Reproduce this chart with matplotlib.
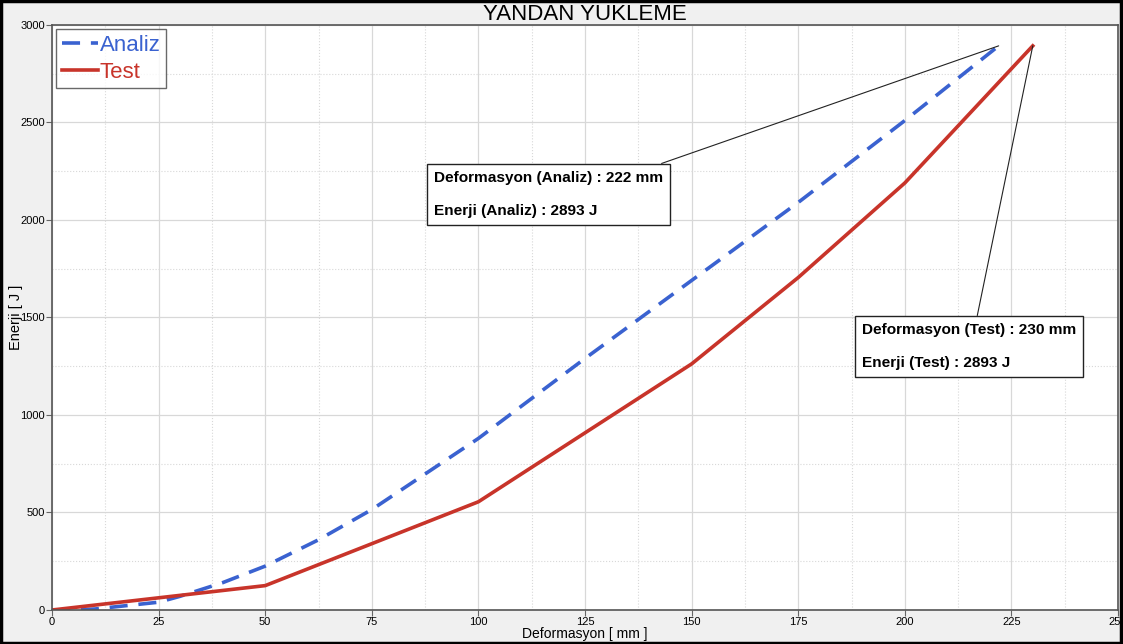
import matplotlib.pyplot as plt
from matplotlib.patches import Rectangle

# data
analiz_x = [0, 5, 10, 25, 30, 40, 50, 62.5, 75, 100, 125, 150, 175, 200, 222]
analiz_y = [0, 0, 5, 40, 70, 140, 225, 360, 515, 880, 1290, 1690, 2090, 2510, 2893]
test_x = [0, 50, 100, 150, 175, 200, 230]
test_y = [0, 125, 555, 1262, 1705, 2190, 2893]

xticks = [0, 25, 50, 75, 100, 125, 150, 175, 200, 225, 250]
yticks = [0, 500, 1000, 1500, 2000, 2500, 3000]

BLUE = "#3a62d0"
RED = "#c8342a"

plt.rcParams['font.family'] = ['Liberation Sans', 'DejaVu Sans']

fig = plt.figure(figsize=(11.23, 6.44), dpi=100)
fig.patch.set_facecolor("#f0f0f0")
fig.patches.append(Rectangle((0.001, 0.002), 0.997, 0.996, transform=fig.transFigure,
                             fill=False, edgecolor="black", linewidth=2.5))

ax = fig.add_axes([0.0463, 0.0528, 0.9493, 0.9084])
ax.set_facecolor("white")

ax.plot(analiz_x, analiz_y, color=BLUE, linestyle=(0, (5, 3)), linewidth=2.6, label="Analiz")
ax.plot(test_x, test_y, color=RED, linewidth=2.6, label="Test")

ax.set_xlim(0, 250)
ax.set_ylim(0, 3000)
ax.set_xticks(xticks)
ax.set_yticks(yticks)
ax.set_xticks([x + 12.5 for x in xticks[:-1]], minor=True)
ax.set_yticks([y + 250 for y in yticks[:-1]], minor=True)
ax.grid(which="major", color="#d8d8d8", linewidth=0.9)
ax.grid(which="minor", color="#d8d8d8", linewidth=0.8, linestyle=":")
ax.tick_params(which="major", labelsize=8, length=4, color="#666666", pad=1)
ax.tick_params(which="minor", length=0)
for s in ax.spines.values():
    s.set_color("#555555")
    s.set_linewidth(1.2)

ax.set_xlabel("Deformasyon [ mm ]", fontsize=10, labelpad=0)
ax.set_ylabel("Enerji [ J ]", fontsize=10.5)
ax.yaxis.set_label_coords(-0.0275, 0.5)
fig.text(0.521, 0.969, "YANDAN YUKLEME", ha="center", va="baseline", fontsize=16)

leg = ax.legend(loc="upper left", fontsize=16, frameon=True, fancybox=False,
                borderpad=0.25, handlelength=1.6, handletextpad=0.1,
                labelspacing=0.25, borderaxespad=0.2)
leg.get_frame().set_edgecolor("#444444")
leg.get_frame().set_linewidth(1.0)
for txt, c in zip(leg.get_texts(), [BLUE, RED]):
    txt.set_color(c)

box = dict(boxstyle="square,pad=0.45", facecolor="white", edgecolor="#222222", linewidth=1.0)
ax.annotate("Deformasyon (Analiz) : 222 mm\n\nEnerji (Analiz) : 2893 J",
            xy=(analiz_x[-1], analiz_y[-1]), xytext=(89.6, 2130),
            fontsize=11.1, fontweight="bold", ha="left", va="center",
            linespacing=1.25, bbox=box,
            arrowprops=dict(arrowstyle="-", color="#222222", linewidth=0.8,
                            relpos=(0.9, 1.0), shrinkA=0, shrinkB=0))
ax.annotate("Deformasyon (Test) : 230 mm\n\nEnerji (Test) : 2893 J",
            xy=(test_x[-1], test_y[-1]), xytext=(190.0, 1350),
            fontsize=11.1, fontweight="bold", ha="left", va="center",
            linespacing=1.25, bbox=box,
            arrowprops=dict(arrowstyle="-", color="#222222", linewidth=0.8,
                            relpos=(0.53, 1.0), shrinkA=0, shrinkB=0))

fig.savefig("out.png", dpi=100, facecolor=fig.get_facecolor())
